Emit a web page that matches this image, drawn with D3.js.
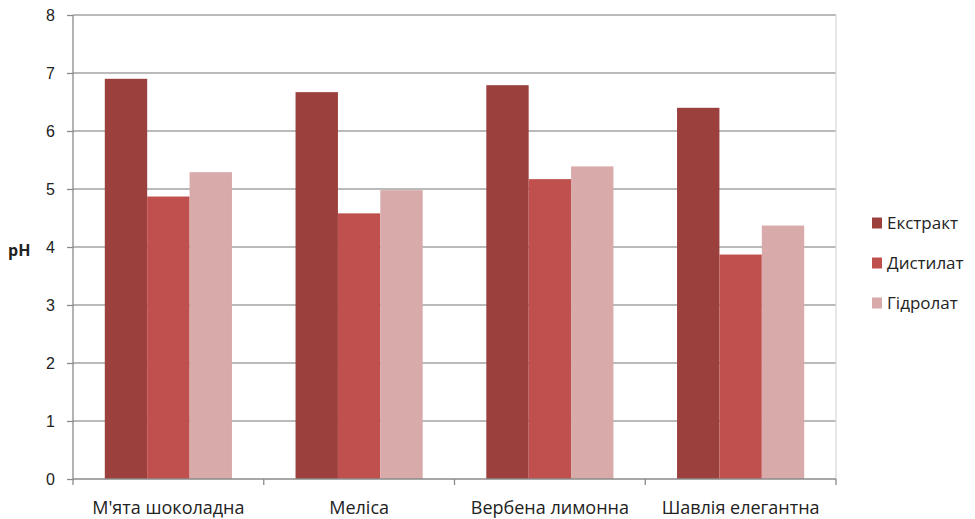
<!DOCTYPE html>
<html>
<head>
<meta charset="utf-8">
<script src="https://cdn.jsdelivr.net/npm/d3@7"></script>
<style>
  html, body { margin: 0; padding: 0; background: #fff; }
  svg { display: block; font-family: "Open Sans", "Noto Sans", sans-serif; }
</style>
</head>
<body>
<svg id="chart" width="975" height="519"></svg>
<script>
// Plants (categories) and the pH readings of each preparation
const categories = ["М'ята шоколадна", "Меліса", "Вербена лимонна", "Шавлія елегантна"];
const seriesNames = ["Екстракт", "Дистилат", "Гідролат"];
const extractValues = [6.9, 6.67, 6.79, 6.4];
const distillateValues = [4.87, 4.58, 5.17, 3.87];
const hydrolateValues = [5.29, 4.98, 5.39, 4.37];
const yTicks = [0, 1, 2, 3, 4, 5, 6, 7, 8];
const colors = ["#9c403d", "#c0504d", "#d9aaaa"];

const seriesValues = [extractValues, distillateValues, hydrolateValues];
const rows = categories.map((c, i) => ({
  category: c,
  values: seriesNames.map((s, j) => ({ series: s, value: seriesValues[j][i] }))
}));

const svg = d3.select("#chart");
const plotLeft = 73, plotRight = 836, plotTop = 15, plotBottom = 479;

const x0 = d3.scaleBand().domain(categories).range([plotLeft, plotRight]).padding(0);
const x1 = d3.scaleBand().domain(seriesNames).range([0, x0.bandwidth()])
  .paddingInner(0).paddingOuter(0.75);
const y = d3.scaleLinear().domain([0, 8]).range([plotBottom, plotTop]);
const color = d3.scaleOrdinal().domain(seriesNames).range(colors);

// Horizontal gridlines
svg.append("g")
  .selectAll("line")
  .data(yTicks.filter(d => d > 0))
  .join("line")
  .attr("x1", plotLeft).attr("x2", plotRight)
  .attr("y1", d => y(d)).attr("y2", d => y(d))
  .attr("stroke", "#a3a3a3").attr("stroke-width", 1.3);

// Right border of the plot area
svg.append("line")
  .attr("x1", plotRight).attr("x2", plotRight)
  .attr("y1", plotTop).attr("y2", plotBottom)
  .attr("stroke", "#d9d9d9").attr("stroke-width", 1.3);

// Bars
svg.append("g")
  .selectAll("g")
  .data(rows)
  .join("g")
  .attr("transform", d => `translate(${x0(d.category)},0)`)
  .selectAll("rect")
  .data(d => d.values)
  .join("rect")
  .attr("x", d => x1(d.series))
  .attr("width", x1.bandwidth())
  .attr("y", d => y(d.value))
  .attr("height", d => y(0) - y(d.value))
  .attr("fill", d => color(d.series));

// Y axis
const yAxis = svg.append("g")
  .attr("transform", `translate(${plotLeft},0)`)
  .call(d3.axisLeft(y).tickValues(yTicks).tickSize(6).tickPadding(12).tickFormat(d3.format("d")));
yAxis.select(".domain").attr("stroke", "#8a8a8a").attr("stroke-width", 1.3).attr("d", `M0,${plotTop}V${plotBottom}`);
yAxis.selectAll(".tick line").attr("stroke", "#8a8a8a").attr("stroke-width", 1.3);
yAxis.selectAll(".tick text").attr("font-size", 16).attr("fill", "#222");

// X axis with ticks at category boundaries
const xAxis = svg.append("g").attr("transform", `translate(0,${plotBottom})`);
xAxis.append("line")
  .attr("x1", plotLeft).attr("x2", plotRight)
  .attr("stroke", "#8a8a8a").attr("stroke-width", 1.3);
const boundaries = categories.map(c => x0(c)).concat([x0(categories[categories.length - 1]) + x0.bandwidth()]);
xAxis.selectAll(".bt")
  .data(boundaries)
  .join("line")
  .attr("class", "bt")
  .attr("x1", d => d).attr("x2", d => d)
  .attr("y1", 0).attr("y2", 6)
  .attr("stroke", "#8a8a8a").attr("stroke-width", 1.3);
xAxis.selectAll(".cat")
  .data(categories)
  .join("text")
  .attr("class", "cat")
  .attr("x", d => x0(d) + x0.bandwidth() / 2)
  .attr("y", 35)
  .attr("text-anchor", "middle")
  .attr("font-size", 18)
  .attr("fill", "#222")
  .text(d => d);

// Y axis title
svg.append("text")
  .attr("x", 8).attr("y", 256)
  .attr("font-size", 16).attr("font-weight", "bold")
  .attr("fill", "#222")
  .text("pH");

// Legend
const legend = svg.append("g")
  .selectAll("g")
  .data(seriesNames)
  .join("g")
  .attr("transform", (d, i) => `translate(872,${223 + i * 40})`);
legend.append("rect")
  .attr("x", 0).attr("y", -5.5).attr("width", 10).attr("height", 11)
  .attr("fill", d => color(d));
legend.append("text")
  .attr("x", 15).attr("y", 0).attr("dy", "0.35em")
  .attr("font-size", 17).attr("fill", "#222")
  .text(d => d);
</script>
</body>
</html>
